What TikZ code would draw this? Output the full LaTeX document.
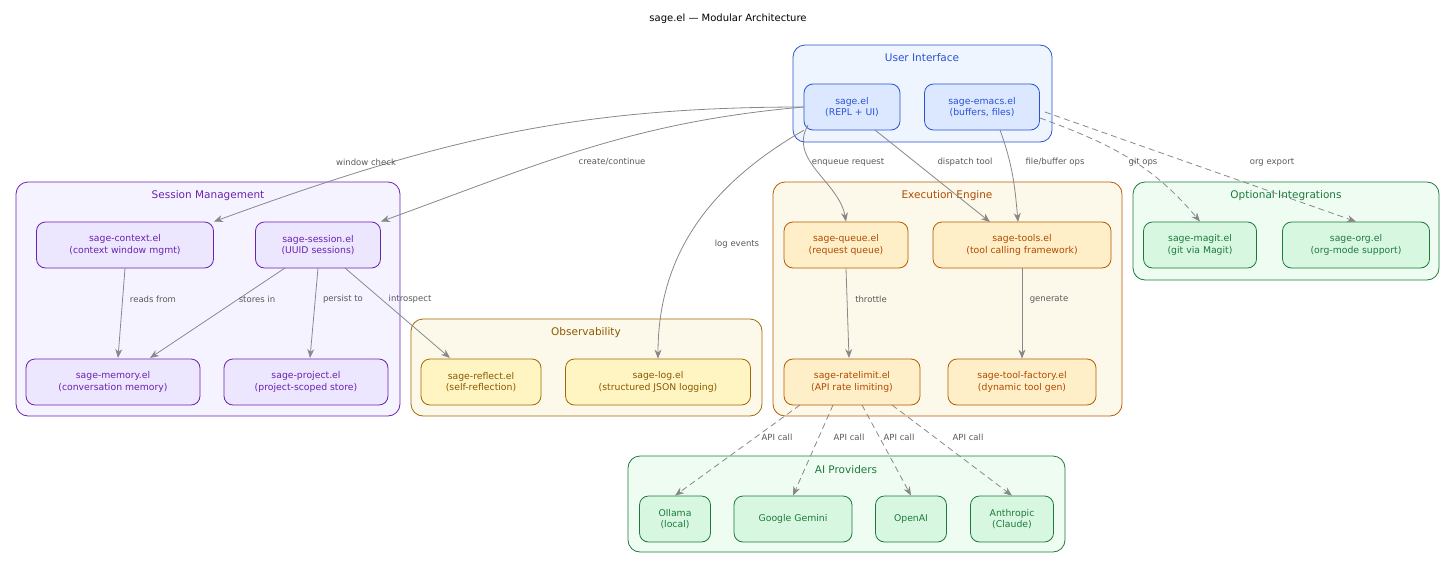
\documentclass[tikz,border=0pt]{standalone}
\usepackage{fontspec}
\setmainfont{DejaVu Sans}
\usetikzlibrary{arrows.meta}
\definecolor{ebrd}{HTML}{888888}
\definecolor{uib}{HTML}{2A52D6}\definecolor{uif}{HTML}{EEF5FF}\definecolor{uin}{HTML}{DCE8FF}
\definecolor{smb}{HTML}{6A22B0}\definecolor{smf}{HTML}{F5F3FF}\definecolor{smn}{HTML}{ECE6FF}
\definecolor{obb}{HTML}{A06A00}\definecolor{obf}{HTML}{FDF9EA}\definecolor{obn}{HTML}{FFF5C2}\definecolor{obt}{HTML}{8A5800}
\definecolor{exb}{HTML}{B85A00}\definecolor{exf}{HTML}{FDF9EA}\definecolor{exn}{HTML}{FFEFC8}\definecolor{ext}{HTML}{B04A00}
\definecolor{grb}{HTML}{1C7A3C}\definecolor{grf}{HTML}{EFFCF2}\definecolor{grn}{HTML}{D8F7E0}
\begin{document}
\begin{tikzpicture}[x=1pt,y=-1pt,
 clus/.style={draw=#1,rounded corners=12pt,line width=0.8pt},
 ctitle/.style={font=\fontsize{10.5}{12}\selectfont},
 nd/.style={draw,rounded corners=9pt,align=center,font=\fontsize{9.3}{11.5}\selectfont,minimum height=46pt,inner sep=2pt,line width=0.8pt},
 ui/.style={nd,draw=uib,fill=uin,text=uib},
 sm/.style={nd,draw=smb,fill=smn,text=smb},
 ob/.style={nd,draw=obb,fill=obn,text=obt},
 ex/.style={nd,draw=exb,fill=exn,text=ext},
 gr/.style={nd,draw=grb,fill=grn,text=grb},
 e/.style={draw=ebrd,line width=0.8pt,-{Stealth[length=9pt,width=7pt]}},
 d/.style={e,dash pattern=on 6pt off 4pt},
 lb/.style={font=\fontsize{8.5}{10}\selectfont,text=black!65,inner sep=1pt}]
\useasboundingbox (0,0) rectangle (1456,570);
\node[font=\fontsize{10}{12}\selectfont] at (728,19) {sage.el — Modular Architecture};
% clusters
\draw[clus=uib,fill=uif] (793,45) rectangle (1052,142);
\node[ctitle,text=uib] at (922,58) {User Interface};
\draw[clus=smb,fill=smf] (16,182) rectangle (400,416);
\node[ctitle,text=smb] at (208,196) {Session Management};
\draw[clus=obb,fill=obf] (411,319) rectangle (762,416);
\node[ctitle,text=obt] at (586,333) {Observability};
\draw[clus=exb,fill=exf] (773,182) rectangle (1122,416);
\node[ctitle,text=ext] at (947,196) {Execution Engine};
\draw[clus=grb,fill=grf] (1133,182) rectangle (1439,280);
\node[ctitle,text=grb] at (1286,196) {Optional Integrations};
\draw[clus=grb,fill=grf] (628,456) rectangle (1065,552);
\node[ctitle,text=grb] at (846,470) {AI Providers};
% nodes
\node[ui,minimum width=96pt] (sage) at (852,107) {sage.el\\(REPL + UI)};
\node[ui,minimum width=115pt] (emacs) at (982,107) {sage-emacs.el\\(buffers, files)};
\node[sm,minimum width=177pt] (ctx) at (125,245) {sage-context.el\\(context window mgmt)};
\node[sm,minimum width=125pt] (sess) at (318,245) {sage-session.el\\(UUID sessions)};
\node[sm,minimum width=174pt] (mem) at (113,382) {sage-memory.el\\(conversation memory)};
\node[sm,minimum width=164pt] (proj) at (306,382) {sage-project.el\\(project-scoped store)};
\node[ob,minimum width=120pt] (refl) at (481,382) {sage-reflect.el\\(self-reflection)};
\node[ob,minimum width=185pt] (log) at (658,382) {sage-log.el\\(structured JSON logging)};
\node[ex,minimum width=124pt] (queue) at (846,245) {sage-queue.el\\(request queue)};
\node[ex,minimum width=178pt] (tools) at (1022,245) {sage-tools.el\\(tool calling framework)};
\node[ex,minimum width=136pt] (rate) at (852,382) {sage-ratelimit.el\\(API rate limiting)};
\node[ex,minimum width=148pt] (fact) at (1022,382) {sage-tool-factory.el\\(dynamic tool gen)};
\node[gr,minimum width=113pt] (magit) at (1200,245) {sage-magit.el\\(git via Magit)};
\node[gr,minimum width=147pt] (org) at (1356,245) {sage-org.el\\(org-mode support)};
\node[gr,minimum width=71pt] (oll) at (675,519) {Ollama\\(local)};
\node[gr,minimum width=118pt] (gem) at (793,519) {Google Gemini};
\node[gr,minimum width=71pt] (oai) at (911,519) {OpenAI};
\node[gr,minimum width=83pt] (ant) at (1012,519) {Anthropic\\(Claude)};
% edges
\draw[e] (sage.west) to[out=180,in=20] (ctx.north east);
\node[lb] at (366,162) {window check};
\draw[e] (sage.west) to[out=185,in=20] (sess.north east);
\node[lb] at (612,162) {create/continue};
\draw[e] (sage.south west) to[out=-150,in=90] (log.north);
\node[lb] at (737,244) {log events};
\draw[e] (808,125) to[out=-120,in=100] (queue.north);
\node[lb] at (848,162) {enqueue request};
\draw[e] (875,130) -- (990,222);
\node[lb] at (965,162) {dispatch tool};
\draw[e] (1000,130) to[out=-70,in=95] (1018,222);
\node[lb] at (1055,162) {file/buffer ops};
\draw[d] (1040,118) to[out=-20,in=130] (magit.north);
\draw[d] (1045,112) -- (org.north);
\node[lb] at (1143,162) {git ops};
\node[lb] at (1272,162) {org export};
\draw[e] (ctx.south) -- (118,358);
\node[lb] at (153,299) {reads from};
\draw[e] (285,268) -- (150,358);
\node[lb] at (257,299) {stores in};
\draw[e] (sess.south) -- (310,358);
\node[lb] at (343,299) {persist to};
\draw[e] (345,268) -- (450,358);
\node[lb] at (410,299) {introspect};
\draw[e] (queue.south) -- (849,358);
\node[lb] at (871,299) {throttle};
\draw[e] (tools.south) -- (fact.north);
\node[lb] at (1049,299) {generate};
\draw[d] (800,405) -- (oll.north);
\draw[d] (833,405) -- (gem.north);
\draw[d] (862,405) -- (oai.north);
\draw[d] (892,405) -- (ant.north);
\node[lb] at (777,437) {API call};
\node[lb] at (849,437) {API call};
\node[lb] at (899,437) {API call};
\node[lb] at (968,437) {API call};
\end{tikzpicture}
\end{document}
